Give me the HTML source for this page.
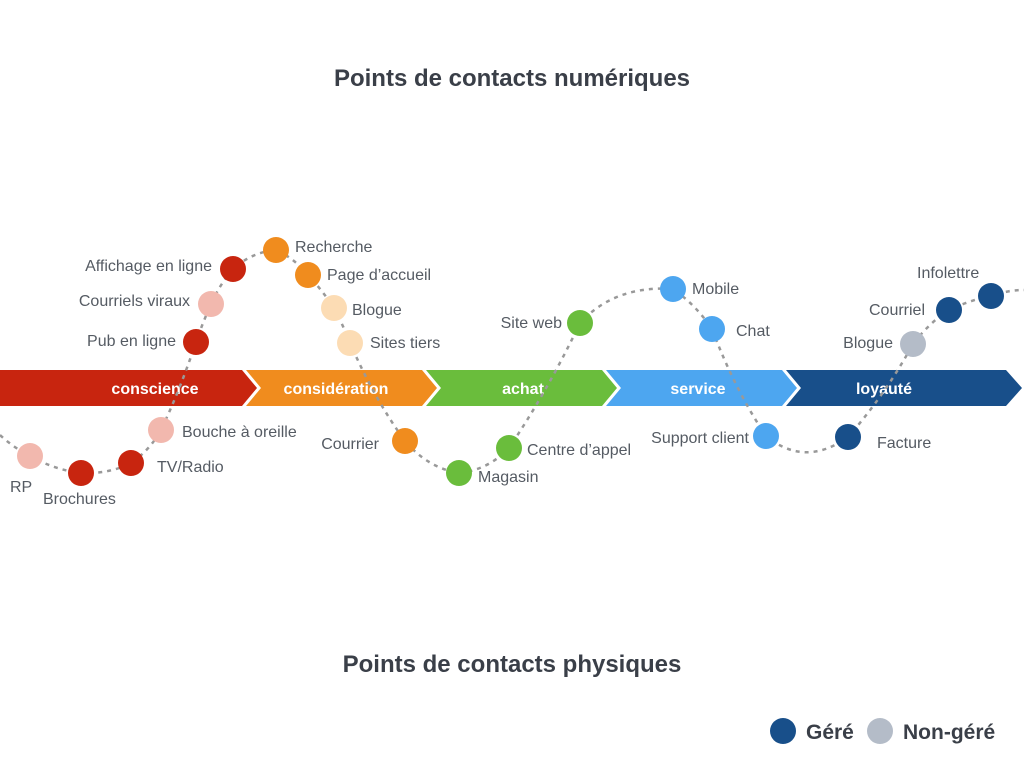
<!DOCTYPE html>
<html><head><meta charset="utf-8"><style>
html,body{margin:0;padding:0;background:#fff;}
svg{display:block;font-family:"Liberation Sans",sans-serif;}
.l{font-size:16px;fill:#555b63;}
.s{font-size:16px;font-weight:bold;fill:#fff;text-anchor:middle;}
</style></head><body>
<svg width="1024" height="768" viewBox="0 0 1024 768">
<text x="512" y="86" text-anchor="middle" font-size="24" font-weight="bold" fill="#3a3f48">Points de contacts numériques</text>
<text x="512" y="672" text-anchor="middle" font-size="24" font-weight="bold" fill="#3a3f48">Points de contacts physiques</text>

<polygon points="0,370 242,370 257,388 242,406 0,406" fill="#c8250f"/>
<polygon points="246,370 422,370 437,388 422,406 246,406 261,388" fill="#f08c1e"/>
<polygon points="426,370 602,370 617,388 602,406 426,406 441,388" fill="#6abd3c"/>
<polygon points="606,370 782,370 797,388 782,406 606,406 621,388" fill="#4da6f0"/>
<polygon points="786,370 1006,370 1022,388 1006,406 786,406 801,388" fill="#184f8a"/>
<text class="s" x="155" y="394">conscience</text>
<text class="s" x="336" y="394">considération</text>
<text class="s" x="523" y="394">achat</text>
<text class="s" x="698" y="394">service</text>
<text class="s" x="884" y="394">loyauté</text>

<path d="M0,435 Q14,448 30,456 Q55,470 81,473 Q110,474 131,463 Q150,450 161,430 Q180,390 196,342 Q203,322 211,304 Q220,284 233,269 Q252,252 276,250 Q294,258 308,275 Q322,290 334,308 Q343,325 350,343 Q375,400 405,441 Q428,468 459,473 Q488,470 509,448 Q548,390 580,323 Q615,285 673,289 Q696,305 712,329 Q735,390 766,436 Q805,468 848,437 Q885,395 913,344 Q930,322 949,310 Q970,300 991,296 Q1008,290 1024,290" fill="none" stroke="#999" stroke-width="2.5" stroke-dasharray="4,5"/>

<g>
<circle cx="30" cy="456" r="13" fill="#f2b8ae"/>
<circle cx="81" cy="473" r="13" fill="#c8250f"/>
<circle cx="131" cy="463" r="13" fill="#c8250f"/>
<circle cx="161" cy="430" r="13" fill="#f2b8ae"/>
<circle cx="196" cy="342" r="13" fill="#c8250f"/>
<circle cx="211" cy="304" r="13" fill="#f2b8ae"/>
<circle cx="233" cy="269" r="13" fill="#c8250f"/>
<circle cx="276" cy="250" r="13" fill="#f08c1e"/>
<circle cx="308" cy="275" r="13" fill="#f08c1e"/>
<circle cx="334" cy="308" r="13" fill="#fcdcb4"/>
<circle cx="350" cy="343" r="13" fill="#fcdcb4"/>
<circle cx="405" cy="441" r="13" fill="#f08c1e"/>
<circle cx="459" cy="473" r="13" fill="#6abd3c"/>
<circle cx="509" cy="448" r="13" fill="#6abd3c"/>
<circle cx="580" cy="323" r="13" fill="#6abd3c"/>
<circle cx="673" cy="289" r="13" fill="#4da6f0"/>
<circle cx="712" cy="329" r="13" fill="#4da6f0"/>
<circle cx="766" cy="436" r="13" fill="#4da6f0"/>
<circle cx="848" cy="437" r="13" fill="#184f8a"/>
<circle cx="913" cy="344" r="13" fill="#b4bcc8"/>
<circle cx="949" cy="310" r="13" fill="#184f8a"/>
<circle cx="991" cy="296" r="13" fill="#184f8a"/>
</g>

<text class="l" x="10" y="492">RP</text>
<text class="l" x="43" y="504">Brochures</text>
<text class="l" x="157" y="472">TV/Radio</text>
<text class="l" x="182" y="437">Bouche à oreille</text>
<text class="l" x="176" y="346" text-anchor="end">Pub en ligne</text>
<text class="l" x="190" y="306" text-anchor="end">Courriels viraux</text>
<text class="l" x="212" y="271" text-anchor="end">Affichage en ligne</text>
<text class="l" x="295" y="252">Recherche</text>
<text class="l" x="327" y="280">Page d’accueil</text>
<text class="l" x="352" y="315">Blogue</text>
<text class="l" x="370" y="348">Sites tiers</text>
<text class="l" x="379" y="449" text-anchor="end">Courrier</text>
<text class="l" x="478" y="482">Magasin</text>
<text class="l" x="527" y="455">Centre d’appel</text>
<text class="l" x="562" y="328" text-anchor="end">Site web</text>
<text class="l" x="692" y="294">Mobile</text>
<text class="l" x="736" y="336">Chat</text>
<text class="l" x="749" y="443" text-anchor="end">Support client</text>
<text class="l" x="877" y="448">Facture</text>
<text class="l" x="893" y="348" text-anchor="end">Blogue</text>
<text class="l" x="925" y="315" text-anchor="end">Courriel</text>
<text class="l" x="917" y="278">Infolettre</text>

<circle cx="783" cy="731" r="13" fill="#184f8a"/>
<text x="806" y="739" font-size="21" font-weight="bold" fill="#3a3f48">Géré</text>
<circle cx="880" cy="731" r="13" fill="#b4bcc8"/>
<text x="903" y="739" font-size="21" font-weight="bold" fill="#3a3f48">Non-géré</text>
</svg>
</body></html>
